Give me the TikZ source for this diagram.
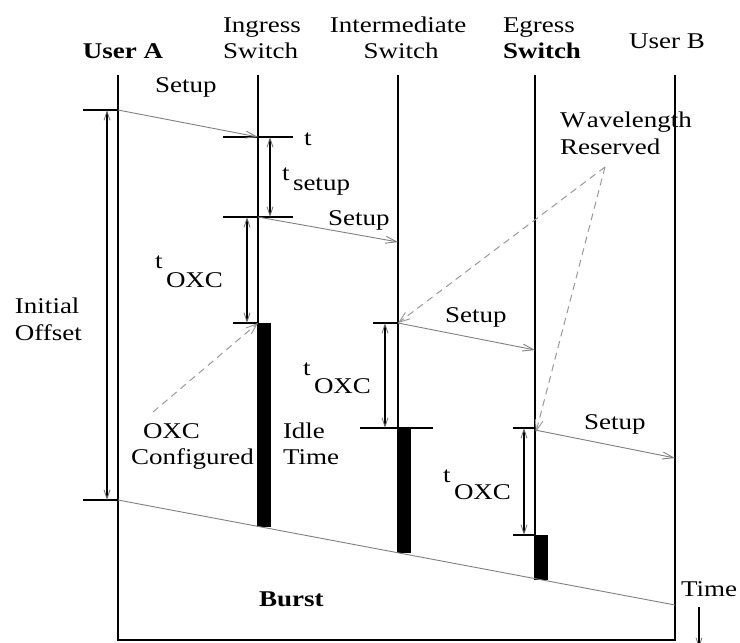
\documentclass[tikz,border=0pt]{standalone}
\usepackage{fontspec}
\setmainfont{Liberation Serif}[FakeStretch=1.2]
\usetikzlibrary{arrows.meta}
\begin{document}
\begin{tikzpicture}[x=1pt,y=-1pt,
  every node/.style={inner sep=0pt, outer sep=0pt, font=\fontsize{22.5}{27}\selectfont},
  lbl/.style={anchor=base west},
  clbl/.style={anchor=base},
  life/.style={line width=2pt},
  tick/.style={line width=1.6pt},
  msg/.style={draw=black!50, line width=0.9pt, -{Straight Barb[length=11pt,width=7pt,line width=0.9pt]}},
  dim/.style={line width=1.4pt, {Straight Barb[length=9pt,width=6pt,line width=0.8pt,color=black!55]}-{Straight Barb[length=9pt,width=6pt,line width=0.8pt,color=black!55]}},
  note/.style={draw=black!40, line width=1pt, dash pattern=on 7pt off 5pt, -{Straight Barb[length=11pt,width=8pt,line width=0.9pt]}},
  barfill/.style={fill=black, draw=none},
]
\useasboundingbox (0,0) rectangle (740,643);

% lifelines
\coordinate (Atop) at (118,75);
\coordinate (Abot) at (118,640);
\coordinate (Btop) at (675,75);
\coordinate (Bbot) at (675,640);
\coordinate (Itop) at (258,75);
\coordinate (Ibot) at (258,527);
\coordinate (Mtop) at (398,75);
\coordinate (Mbot) at (398,553);
\coordinate (Etop) at (535,75);
\coordinate (Ebot) at (535,580);
\draw[life] (Atop) -- (Abot) -- (Bbot) -- (Btop);
\draw[life] (Itop) -- (Ibot);
\draw[life] (Mtop) -- (Mbot);
\draw[life] (Etop) -- (Ebot);

% bars
\fill[barfill] (257,323) rectangle (271,527);
\fill[barfill] (397,428) rectangle (411,553);
\fill[barfill] (534,535) rectangle (548,580);

% headers
\node[clbl, font=\fontsize{22.5}{27}\selectfont\bfseries] (userA) at (123,58) {User A};
\node[lbl] (ingr1) at (223,32) {Ingress};
\node[lbl] (ingr2) at (223,58) {Switch};
\node[clbl] (inter1) at (398,32) {Intermediate};
\node[clbl] (inter2) at (401,58) {Switch};
\node[lbl] (egr1) at (503,32) {Egress};
\node[lbl, font=\fontsize{22.5}{27}\selectfont\bfseries] (egr2) at (503,58) {Switch};
\node[clbl] (userB) at (667,48) {User B};

% ticks
\coordinate (a1l) at (83,110);  \coordinate (a1) at (118,110);
\coordinate (a2l) at (83,500);  \coordinate (a2) at (118,500);
\coordinate (i1l) at (223,137); \coordinate (i1) at (258,137); \coordinate (i1r) at (293,137);
\coordinate (i2l) at (223,217); \coordinate (i2) at (258,217); \coordinate (i2r) at (293,217);
\coordinate (i3l) at (233,323); \coordinate (i3) at (258,323);
\coordinate (m1l) at (373,323); \coordinate (m1) at (398,323);
\coordinate (m2l) at (360,428); \coordinate (m2r) at (433,428);
\coordinate (e1l) at (513,428); \coordinate (e1) at (535,428);
\coordinate (e2l) at (513,535); \coordinate (e2) at (535,535);
\draw[tick] (a1l) -- (a1);
\draw[tick] (a2l) -- (a2);
\draw[tick] (i1l) -- (i1r);
\draw[tick] (i2l) -- (i2r);
\draw[tick] (i3l) -- (i3);
\draw[tick] (m1l) -- (m1);
\draw[tick] (m2l) -- (m2r);
\draw[tick] (e1l) -- (e1);
\draw[tick] (e2l) -- (e2);

% setup messages
\coordinate (m0) at (398,242);
\coordinate (e0) at (535,350);
\coordinate (e0s) at (535,430);
\coordinate (b0) at (675,458);
\draw[msg] (a1) -- (i1);
\draw[msg] (i2) -- (m0);
\draw[msg] (m1) -- (e0);
\draw[msg] (e0s) -- (b0);
\node[lbl] (setup1) at (155,92) {Setup};
\node[lbl] (setup2) at (328,225) {Setup};
\node[lbl] (setup3) at (445,322) {Setup};
\node[lbl] (setup4) at (584,429) {Setup};

% burst
\coordinate (burstB) at (675,605);
\draw[draw=black!50, line width=0.9pt] (a2) -- (burstB);
\node[lbl, font=\fontsize{22.5}{27}\selectfont\bfseries] (burst) at (259,606) {Burst};

% dimension arrows
\coordinate (d0a) at (107,110); \coordinate (d0b) at (107,500);
\coordinate (d1a) at (270,137); \coordinate (d1b) at (270,217);
\coordinate (d2a) at (247,217); \coordinate (d2b) at (247,323);
\coordinate (d3a) at (385,323); \coordinate (d3b) at (385,428);
\coordinate (d4a) at (524,428); \coordinate (d4b) at (524,535);
\draw[dim] (d0a) -- (d0b);
\draw[dim] (d1a) -- (d1b);
\draw[dim] (d2a) -- (d2b);
\draw[dim] (d3a) -- (d3b);
\draw[dim] (d4a) -- (d4b);

\node[lbl] (tlab) at (304,145) {t};
\node[lbl] (tsetup) at (282,180) {t\hspace{3.5pt}\raisebox{-10pt}{setup}};
\node[lbl] (toxc1) at (155,268) {t\hspace{3.5pt}\raisebox{-19pt}{OXC}};
\node[lbl] (toxc2) at (303,375) {t\hspace{3.5pt}\raisebox{-18pt}{OXC}};
\node[lbl] (toxc3) at (443,482) {t\hspace{3.5pt}\raisebox{-17pt}{OXC}};

% side labels
\node[lbl] (init1) at (15,313) {Initial};
\node[lbl] (init2) at (15,340) {Offset};
\node[lbl] (oxc1) at (143,438) {OXC};
\node[lbl] (oxc2) at (131,464) {Configured};
\node[lbl] (idle1) at (283,438) {Idle};
\node[lbl] (idle2) at (283,464) {Time};
\node[lbl] (wave1) at (560,127) {W\hspace{1.5pt}avelength};
\node[lbl] (wave2) at (560,154) {Reserved};

% dashed pointers
\coordinate (oxcTip) at (153,412);
\coordinate (waveTip) at (605,167);
\coordinate (e1p) at (536,432);
\draw[note] (oxcTip) -- (i3);
\draw[note] (waveTip) -- (m1);
\draw[note] (waveTip) -- (e1p);

% time axis
\node[lbl] (time) at (681,596) {Time};
\coordinate (tA) at (699,607);
\coordinate (tB) at (699,648);
\draw[line width=1.4pt, -{Straight Barb[length=9pt,width=6pt,line width=0.8pt,color=black!55]}] (tA) -- (tB);
\end{tikzpicture}
\end{document}
